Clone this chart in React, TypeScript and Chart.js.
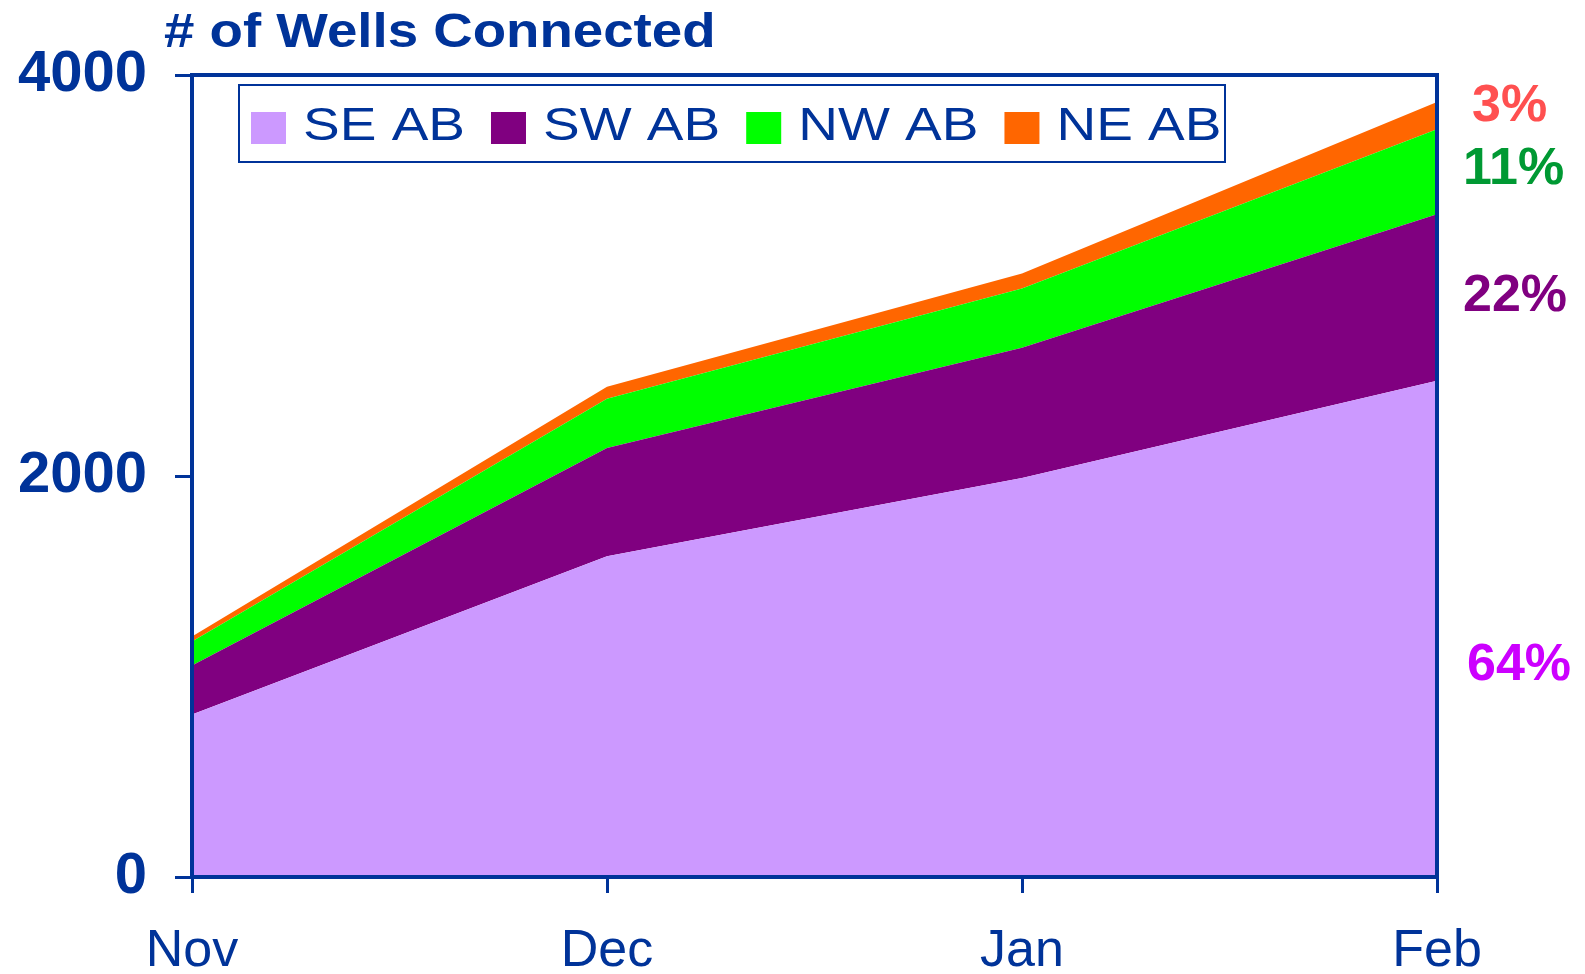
import React, { useEffect, useRef } from "react";
import { Chart, registerables } from "chart.js";
Chart.register(...registerables);

const months = ["Nov", "Dec", "Jan", "Feb"];
const seAB = [810, 1600, 1990, 2475];
const swAB = [245, 540, 650, 830];
const nwAB = [120, 245, 295, 425];
const neAB = [25, 60, 75, 135];
const seriesNames = ["SE AB", "SW AB", "NW AB", "NE AB"];
const shareLabels = ["64%", "22%", "11%", "3%"];
const yMax = 4000;
const yStep = 2000;
const chartTitle = "# of Wells Connected";

const FONT = '"Liberation Sans", Arial, Helvetica, sans-serif';
const BLUE = "#003399";
const fillColors = ["#CC99FF", "#800080", "#00FF00", "#FF6600"];
const shareColors = ["#CC00FF", "#800080", "#009933", "#FF5050"];

const decor = {
  id: "decor",
  afterDatasetsDraw(chart: any) {
    const { ctx, chartArea: a, scales } = chart;
    ctx.save();
    // plot frame
    ctx.strokeStyle = BLUE;
    ctx.lineWidth = 4;
    ctx.strokeRect(a.left, a.top, a.right - a.left, a.bottom - a.top);

    // title
    ctx.fillStyle = BLUE;
    ctx.font = `bold 49px ${FONT}`;
    ctx.textAlign = "left";
    ctx.textBaseline = "alphabetic";
    ctx.save();
    ctx.translate(a.left - 28, 47);
    ctx.scale(1.115, 1);
    ctx.fillText(chartTitle, 0, 0);
    ctx.restore();

    // legend
    const bx = 239, by = 85, bw = 986, bh = 77;
    ctx.lineWidth = 2;
    ctx.strokeStyle = BLUE;
    ctx.strokeRect(bx, by, bw, bh);
    ctx.font = `47px ${FONT}`;
    ctx.textBaseline = "middle";
    let x = 251;
    const cy = 127;
    seriesNames.forEach((name, i) => {
      ctx.fillStyle = fillColors[i];
      ctx.fillRect(x, 112, 35, 32);
      x += 35 + 17;
      ctx.fillStyle = BLUE;
      ctx.save();
      ctx.translate(x, cy);
      ctx.scale(1.17, 1);
      ctx.fillText(name, 0, 0);
      ctx.restore();
      x += ctx.measureText(name).width * 1.17 + 26;
    });

    // share labels at Feb
    const y = scales.y;
    const last = months.length - 1;
    const series = [seAB, swAB, nwAB, neAB];
    let base = 0;
    const xOff = [30, 26, 26, 35];
    const yOff = [37, -1, -2, -9];
    ctx.font = `bold 52px ${FONT}`;
    ctx.textBaseline = "middle";
    ctx.textAlign = "left";
    series.forEach((s, i) => {
      const top = base + s[last];
      const mid = (y.getPixelForValue(base) + y.getPixelForValue(top)) / 2;
      ctx.fillStyle = shareColors[i];
      ctx.fillText(shareLabels[i], a.right + xOff[i], mid + yOff[i]);
      base = top;
    });
    ctx.restore();
  },
};

export default function App() {
  const ref = useRef<HTMLCanvasElement>(null);
  useEffect(() => {
    if (!ref.current) return;
    const series = [seAB, swAB, nwAB, neAB];
    const chart = new Chart(ref.current, {
      type: "line",
      data: {
        labels: months,
        datasets: series.map((d, i) => ({
          label: seriesNames[i],
          data: d,
          backgroundColor: fillColors[i],
          borderColor: fillColors[i],
          borderWidth: 0,
          pointRadius: 0,
          tension: 0,
          fill: i === 0 ? "origin" : "-1",
        })),
      },
      options: {
        responsive: false,
        animation: false,
        layout: { padding: { top: 75, right: 148, left: 0, bottom: 0 } },
        plugins: {
          legend: { display: false },
          title: { display: false },
          tooltip: { enabled: false },
        },
        scales: {
          x: {
            offset: false,
            grid: {
              drawOnChartArea: false,
              drawTicks: true,
              tickLength: 16,
              tickWidth: 3,
              tickColor: BLUE,
              color: BLUE,
            },
            border: { display: true, color: BLUE, width: 4 },
            ticks: {
              color: BLUE,
              font: { family: FONT, size: 52 },
              padding: 27,
              maxRotation: 0,
              autoSkip: false,
            },
            afterFit: (s: any) => {
              s.height = 97;
            },
          },
          y: {
            stacked: true,
            min: 0,
            max: yMax,
            grid: {
              drawOnChartArea: false,
              drawTicks: true,
              tickLength: 17,
              tickWidth: 3,
              tickColor: BLUE,
              color: BLUE,
            },
            border: { display: true, color: BLUE, width: 4 },
            ticks: {
              stepSize: yStep,
              color: BLUE,
              font: { family: FONT, size: 58, weight: "bold" },
              padding: 28,
              callback: (v: any) => String(v),
            },
            afterFit: (s: any) => {
              s.width = 192;
            },
          },
        },
      },
      plugins: [decor],
    });
    return () => chart.destroy();
  }, []);
  return (
    <div style={{ position: "fixed", left: 0, top: 0, width: 1585, height: 974, background: "#fff" }}>
      <canvas ref={ref} width={1585} height={974} style={{ width: 1585, height: 974, display: "block" }} />
    </div>
  );
}
